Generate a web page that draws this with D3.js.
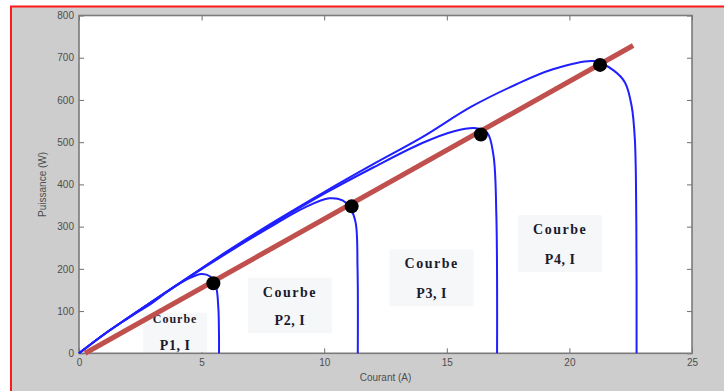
<!DOCTYPE html>
<html>
<head>
<meta charset="utf-8">
<script src="https://cdn.jsdelivr.net/npm/d3@7"></script>
<style>
  body { margin: 0; background: #fff; }
  svg { display: block; }
  .tick text { font-family: "Liberation Sans", Arial, sans-serif; font-size: 10px; fill: #4d4d4d; }
  .tick line { stroke: #6f6f6f; }
</style>
</head>
<body>
<svg id="chart" width="724" height="391"></svg>
<script>
// axis ticks
var xTicks = [0, 5, 10, 15, 20, 25];
var yTicks = [0, 100, 200, 300, 400, 500, 600, 700, 800];

// P(I) curves, current in A, power in W
var curve1I = [0, 1, 2, 3, 3.7, 4.4, 5.0, 5.35, 5.58, 5.68, 5.71, 5.71];
var curve1P = [0, 44, 83, 120, 150, 175, 188, 182, 160, 110, 40, 0];
var curve2I = [0, 1, 2, 4, 6, 8, 9.2, 10.2, 10.75, 11.05, 11.28, 11.36, 11.37];
var curve2P = [0, 44, 84, 162, 236, 306, 345, 367, 362, 345, 310, 200, 0];
var curve3I = [0, 1, 2, 4, 6, 8, 10, 12, 14, 15.3, 16.2, 16.65, 16.9, 17.02, 17.05];
var curve3P = [0, 44, 84, 162, 238, 310, 378, 440, 498, 526, 533, 522, 470, 330, 0];
var curve4I = [0, 1, 2, 4, 6, 8, 10, 12, 14, 16, 17.8, 19.3, 21.0, 21.8, 22.27, 22.54, 22.67, 22.73, 22.74];
var curve4P = [0, 44, 84, 162, 240, 313, 382, 448, 512, 584, 636, 672, 692, 670, 641, 585, 506, 300, 0];

// operating line and its intersections
var lineI = [0.25, 22.6];
var lineP = [0, 729];
var dotI = [5.48, 11.12, 16.39, 21.25];
var dotP = [166, 348, 518, 683];

// "Courbe Px, I" annotations (centre of each text line, in data units)
var labelNames = ["P1, I", "P2, I", "P3, I", "P4, I"];
var labelI = [3.92, 8.6, 14.38, 19.62];
var labelTopP = [82, 146, 213, 294];
var labelBottomP = [20, 79, 142, 223];

var svg = d3.select("#chart");

// figure background with the red frame of the screenshot
svg.append("rect").attr("x", 11).attr("y", 6.5).attr("width", 720).attr("height", 400)
    .style("fill", "#cdcdcd").style("stroke", "#ff1a1a").style("stroke-width", 2);

var x = d3.scaleLinear().domain([0, 25]).range([79, 692]);
var y = d3.scaleLinear().domain([0, 800]).range([353.3, 15.5]);

svg.append("rect")
    .attr("x", x(0)).attr("y", y(800))
    .attr("width", x(25) - x(0)).attr("height", y(0) - y(800))
    .style("fill", "#fff");

// MATLAB style inward ticks on all four sides
svg.append("g").attr("transform", `translate(0,${y(0)})`)
    .call(d3.axisBottom(x).tickValues(xTicks).tickSizeInner(-5).tickSizeOuter(0).tickPadding(6))
    .call(g => g.select(".domain").remove());
svg.append("g").attr("transform", `translate(${x(0)},0)`)
    .call(d3.axisLeft(y).tickValues(yTicks).tickSizeInner(-5).tickSizeOuter(0).tickPadding(5))
    .call(g => g.select(".domain").remove());
svg.append("g").attr("transform", `translate(0,${y(800)})`)
    .call(d3.axisTop(x).tickValues(xTicks).tickSizeInner(-5).tickSizeOuter(0).tickFormat(""))
    .call(g => g.select(".domain").remove());
svg.append("g").attr("transform", `translate(${x(25)},0)`)
    .call(d3.axisRight(y).tickValues(yTicks).tickSizeInner(-5).tickSizeOuter(0).tickFormat(""))
    .call(g => g.select(".domain").remove());

// axis titles
svg.append("text")
    .attr("x", (x(0) + x(25)) / 2).attr("y", 381)
    .attr("text-anchor", "middle")
    .style("font-family", "Liberation Sans, Arial, sans-serif").style("font-size", "10px").style("fill", "#4d4d4d")
    .text("Courant (A)");
svg.append("text")
    .attr("transform", `translate(46,${(y(0) + y(800)) / 2}) rotate(-90)`)
    .attr("text-anchor", "middle")
    .style("font-family", "Liberation Sans, Arial, sans-serif").style("font-size", "10px").style("fill", "#4d4d4d")
    .text("Puissance (W)");

// label boxes, drawn before the curves like in the original figure
labelNames.forEach(function(name, i) {
    var g = svg.append("g");
    var w = i == 0 ? 64 : 84;
    var top = y(labelTopP[i]) - (i == 0 ? 6 : 14);
    var bottom = i == 0 ? y(0) - 1 : y(labelBottomP[i]) + 13;
    g.append("clipPath").attr("id", "clip" + i)
        .append("rect")
        .attr("x", x(labelI[i]) - w / 2).attr("y", top)
        .attr("width", w).attr("height", bottom - top);
    g.append("rect")
        .attr("x", x(labelI[i]) - w / 2).attr("y", top)
        .attr("width", w).attr("height", bottom - top)
        .style("fill", "#f6f7f9");
    g.append("text")
        .attr("clip-path", `url(#clip${i})`)
        .attr("x", x(labelI[i])).attr("y", y(labelTopP[i]))
        .attr("dy", "0.35em").attr("text-anchor", "middle")
        .style("font-family", "Liberation Serif, Times New Roman, serif")
        .style("font-weight", "bold")
        .style("font-size", i == 0 ? "12px" : "14px")
        .style("letter-spacing", i == 0 ? "1px" : "1.5px")
        .style("fill", "#1b1b2b")
        .text("Courbe");
    g.append("text")
        .attr("x", x(labelI[i])).attr("y", y(labelBottomP[i]))
        .attr("dy", "0.35em").attr("text-anchor", "middle")
        .style("font-family", "Liberation Serif, Times New Roman, serif")
        .style("font-weight", "bold").style("font-size", "14px")
        .style("letter-spacing", "0.5px")
        .style("fill", "#1b1b2b")
        .text(name);
});

// frame
svg.append("rect")
    .attr("x", x(0)).attr("y", y(800))
    .attr("width", x(25) - x(0)).attr("height", y(0) - y(800))
    .style("fill", "none").style("stroke", "#7a7a7a").style("stroke-width", 1.6);

// blue P(I) curves
var line = d3.line()
    .x(d => x(d[0])).y(d => y(d[1]))
    .curve(d3.curveCatmullRom.alpha(0.5));
[[curve1I, curve1P], [curve2I, curve2P], [curve3I, curve3P], [curve4I, curve4P]].forEach(function(c) {
    var pts = c[0].map((v, i) => [v, c[1][i]]);
    svg.append("path").datum(pts)
        .attr("d", line)
        .style("fill", "none").style("stroke", "#1f1fff").style("stroke-width", 2);
});

// red operating line
svg.append("line")
    .attr("x1", x(lineI[0])).attr("y1", y(lineP[0]))
    .attr("x2", x(lineI[1])).attr("y2", y(lineP[1]))
    .style("stroke", "#c0504d").style("stroke-width", 5);

// intersection dots
svg.selectAll("circle.dot").data(dotI).enter().append("circle")
    .attr("class", "dot")
    .attr("cx", d => x(d))
    .attr("cy", (d, i) => y(dotP[i]))
    .attr("r", 7)
    .style("fill", "#000");
</script>
</body>
</html>
